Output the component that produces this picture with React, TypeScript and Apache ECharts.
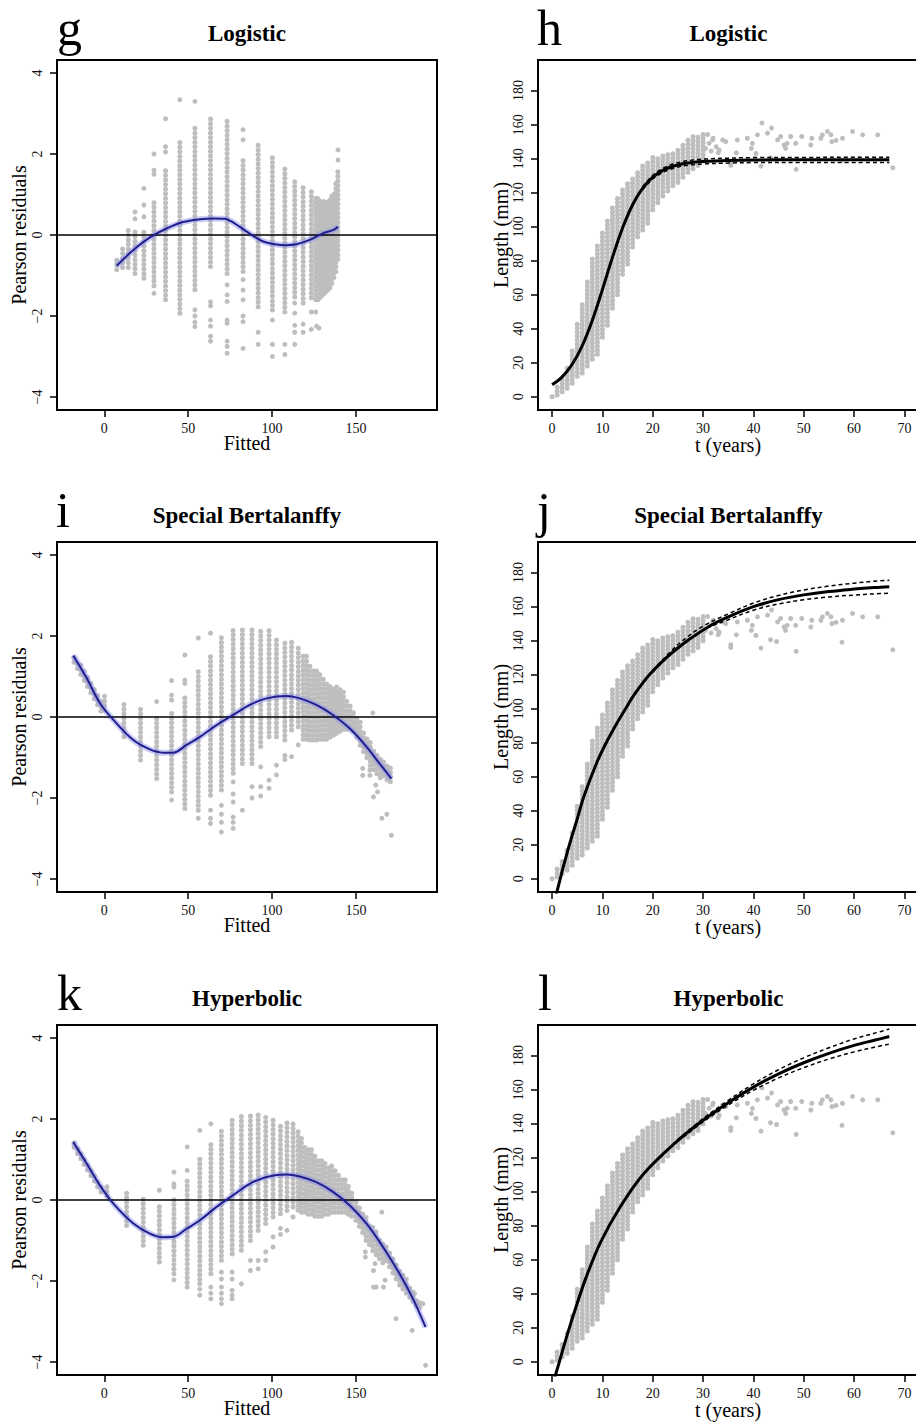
import React, { useEffect, useRef } from 'react';
import * as echarts from 'echarts';

const FONT = "'Liberation Serif', 'Times New Roman', Times, serif";
const GRAY = '#bebebe';
const BLUE = '#1f1f8f';
const HALO = 'rgba(140,140,235,0.45)';

// ---------- ticks & ranges ----------
const RESID_X_TICKS = [0, 50, 100, 150];
const RESID_Y_TICKS = [-4, -2, 0, 2, 4];
const GROWTH_X_TICKS = [0, 10, 20, 30, 40, 50, 60, 70];
const GROWTH_Y_TICKS = [0, 20, 40, 60, 80, 100, 120, 140, 160, 180];
const RESID_X_RANGE = [-28.2, 198.3];
const RESID_Y_RANGE = [-4.32, 4.32];
const GROWTH_X_RANGE = [-2.8, 72.9];
const GROWTH_Y_RANGE = [-7.8, 198];

const LETTERS = [['g', 'h'], ['i', 'j'], ['k', 'l']];
const TITLES = [['Logistic', 'Logistic'], ['Special Bertalanffy', 'Special Bertalanffy'], ['Hyperbolic', 'Hyperbolic']];

// ---------- panel g : Logistic residuals ----------
// columns of points: [fitted, lowest residual, highest residual]
const G_STRIPS = [
  [7.4, -0.85, -0.55], [10.9, -0.8, -0.3], [14.3, -0.8, 0.15], [18.3, -0.95, 0.15], [23.6, -1.07, 0.1],
  [29.6, -1.25, 0.8], [36.5, -1.6, 1.68], [45.0, -1.93, 2.38], [54.0, -1.35, 2.7], [63.3, -0.78, 2.95],
  [73.2, -0.95, 2.83], [82.7, -0.9, 1.93], [91.7, -1.77, 2.26], [100.2, -1.85, 1.95], [107.6, -1.9, 1.68],
  [113.5, -1.53, 1.36], [118.5, -1.68, 1.2], [123.4, -1.55, 1.15], [126.0, -1.6, 1.0], [127.2, -1.6, 0.95],
  [128.4, -1.55, 0.92], [129.6, -1.5, 0.88], [130.8, -1.45, 0.86], [132.0, -1.4, 0.86], [133.2, -1.36, 0.9],
  [134.4, -1.3, 0.95], [135.6, -1.2, 1.0], [136.8, -1.05, 1.1], [138.0, -0.9, 1.3], [139.2, -0.6, 1.6],
];
const G_POINTS = [
  [18.3, 0.4], [18.3, 0.57], [23.6, 0.45], [23.6, 0.74], [23.6, 1.15],
  [29.6, 1.5], [29.6, 1.6], [29.6, 2.0], [29.6, -1.44], [36.5, 2.05], [36.5, 2.18], [36.5, 2.87],
  [45.0, 3.34], [54.0, 3.3], [54.0, -1.85], [54.0, -2.0], [54.0, -2.15], [54.0, -2.26],
  [63.3, -1.65], [63.3, -1.75], [63.3, -2.1], [63.3, -2.25], [63.3, -2.5], [63.3, -2.62],
  [73.2, -1.23], [73.2, -1.48], [73.2, -1.64], [73.2, -2.1], [73.2, -2.18], [73.2, -2.62], [73.2, -2.75], [73.2, -2.92],
  [82.7, 2.35], [82.7, 2.6], [82.7, -1.1], [82.7, -1.36], [82.7, -1.6], [82.7, -2.0], [82.7, -2.14], [82.7, -2.8],
  [91.7, -2.4], [91.7, -2.7], [100.2, -2.1], [100.2, -2.7], [100.2, -3.0], [107.6, -2.7], [107.6, -2.95],
  [113.5, -1.68], [113.5, -1.93], [113.5, -2.23], [113.5, -2.4], [113.5, -2.7], [118.5, -2.2], [118.5, -2.4],
  [123.4, -1.9], [123.4, -2.33], [126.0, -1.9], [126.5, -2.25], [128.0, -2.3], [139.3, 1.85], [139.3, 2.1],
];
const G_FIT = [
  [7.4, -0.76], [17.3, -0.37], [27.2, -0.06], [37.1, 0.16], [47, 0.32], [57, 0.39], [65, 0.41], [72, 0.4],
  [76, 0.33], [80.8, 0.2], [88.7, -0.02], [94.7, -0.16], [100.6, -0.22], [108.5, -0.25], [114.4, -0.23],
  [122.4, -0.12], [130.3, 0.04], [136.3, 0.12], [139.3, 0.2],
];

// ---------- panel i : Special Bertalanffy residuals ----------
const I_STRIPS = [
  [-18, 1.35, 1.55], [-16, 1.2, 1.4], [-14, 1.05, 1.28], [-12, 0.9, 1.15], [-10, 0.75, 1.02], [-8, 0.6, 0.88],
  [-6, 0.45, 0.75], [-4, 0.3, 0.6], [-2, 0.15, 0.45], [0.1, 0.17, 0.58], [11.7, -0.49, 0.38], [21.6, -1.06, 0.26],
  [31.2, -1.52, 0.0], [40.1, -1.85, 0.09], [48.0, -2.26, 0.5], [56.0, -2.3, 1.16], [63.3, -1.93, 1.58],
  [69.8, -1.8, 1.99], [76.8, -1.39, 2.15], [82.3, -1.15, 2.25], [88.0, -1.15, 2.25], [93.2, -0.73, 2.19],
  [98.2, -0.49, 2.15], [102.6, -0.49, 1.99], [107.6, -0.57, 1.9], [111.6, -0.32, 1.86], [115.6, -0.24, 1.78],
  [118.5, -0.55, 1.6], [120.5, -0.55, 1.5], [122.5, -0.57, 1.35], [124.5, -0.57, 1.25], [126.5, -0.57, 1.15],
  [128.5, -0.55, 1.05], [130.5, -0.55, 1.0], [132.5, -0.55, 0.92], [134.5, -0.5, 0.85], [136.5, -0.45, 0.8],
  [138.5, -0.4, 0.75], [140.5, -0.35, 0.7], [142.5, -0.3, 0.62], [144.5, -0.3, 0.45], [146.5, -0.3, 0.33],
  [148.5, -0.35, 0.2], [150.5, -0.5, 0.05], [152.5, -0.7, -0.1], [154.5, -0.85, -0.3], [156.5, -1.0, -0.5],
  [158.5, -1.2, -0.6], [160.5, -1.3, -0.75], [162.5, -1.4, -0.9], [164.5, -1.5, -1.0], [166.5, -1.45, -1.05],
  [168.5, -1.55, -1.15], [170.5, -1.6, -1.2],
];
const I_POINTS = [
  [31.2, 0.38], [40.1, 0.9], [40.1, 0.54], [40.1, 0.42], [40.1, -2.05], [48.0, 1.53], [48.0, 0.91], [48.0, 0.83],
  [56.0, 1.95], [56.0, -2.5], [63.3, 2.07], [63.3, -2.3], [63.3, -2.5], [63.3, -2.63],
  [69.8, -2.18], [69.8, -2.4], [69.8, -2.6], [69.8, -2.84],
  [76.8, -1.6], [76.8, -1.9], [76.8, -2.1], [76.8, -2.47], [76.8, -2.6], [76.8, -2.75],
  [82.3, -2.3], [88.0, -1.72], [88.0, -2.0], [93.2, -1.23], [93.2, -1.72], [93.2, -1.95],
  [98.2, -1.56], [98.2, -1.76], [102.6, -1.19], [102.6, -1.43], [107.6, -0.95], [107.6, -1.05],
  [111.6, -0.98], [115.6, -0.69], [154.0, -1.27], [154.0, -1.44], [158.3, -1.31], [158.3, -1.44],
  [160.4, -1.97], [161.8, -1.68], [162.8, -1.85], [165.4, -2.5], [168.4, -2.4], [171.1, -2.92], [160.0, 0.1],
];
const I_FIT = [
  [-18.5, 1.52], [-10.5, 0.96], [-2.6, 0.34], [5.4, -0.07], [17.3, -0.57], [27.2, -0.8], [35, -0.88], [41.1, -0.88],
  [49, -0.69], [57, -0.49], [66.9, -0.2], [76.8, 0.05], [86.7, 0.3], [96.7, 0.46], [108.6, 0.52], [116.5, 0.46],
  [126.4, 0.3], [136.3, 0.05], [146.2, -0.28], [156.2, -0.73], [164.1, -1.15], [171.1, -1.52],
];

// ---------- panel k : Hyperbolic residuals ----------
const K_STRIPS = [
  [-18, 1.3, 1.48], [-16, 1.15, 1.32], [-14, 1.02, 1.2], [-12, 0.88, 1.05], [-10, 0.74, 0.92], [-8, 0.6, 0.78],
  [-6, 0.47, 0.63], [-4, 0.32, 0.5], [-2, 0.2, 0.4], [1.6, 0.1, 0.4], [13.3, -0.63, 0.24], [23.2, -1.12, 0.07],
  [32.8, -1.53, -0.09], [41.5, -1.82, 0.07], [49.4, -2.15, 0.49], [56.9, -2.07, 1.02], [63.5, -1.82, 1.39],
  [69.8, -1.49, 1.8], [76.2, -1.33, 2.0], [81.7, -1.24, 2.09], [87.1, -1.0, 2.13], [91.7, -0.75, 2.13],
  [96.2, -0.58, 2.13], [100.6, -0.42, 1.97], [105.0, -0.34, 1.93], [108.9, -0.26, 1.93], [112.5, -0.17, 1.89],
  [115.5, -0.25, 1.75], [117.5, -0.3, 1.55], [119.5, -0.3, 1.4], [121.5, -0.35, 1.3], [123.5, -0.35, 1.25],
  [125.5, -0.4, 1.15], [127.5, -0.4, 1.05], [129.5, -0.4, 1.0], [131.5, -0.35, 0.95], [133.5, -0.35, 0.9],
  [135.5, -0.3, 0.85], [137.5, -0.3, 0.8], [139.5, -0.3, 0.7], [141.5, -0.3, 0.6], [143.5, -0.3, 0.5],
  [145.5, -0.35, 0.4], [147.5, -0.4, 0.2], [150, -0.5, 0.0], [152, -0.65, -0.1], [154, -0.8, -0.3],
  [156, -1.0, -0.42], [158, -1.1, -0.55], [160, -1.25, -0.6], [162, -1.35, -0.75], [164, -1.45, -0.9],
  [166, -1.55, -1.0], [168, -1.5, -1.1], [170, -1.65, -1.25], [172, -1.8, -1.4], [174, -1.95, -1.55],
  [176, -2.1, -1.7], [178, -2.2, -1.85], [180, -2.3, -1.95], [182, -2.4, -2.1], [184, -2.5, -2.25],
  [186, -2.6, -2.4], [188, -2.65, -2.5],
];
const K_POINTS = [
  [32.8, 0.24], [41.5, 0.69], [41.5, 0.4], [41.5, 0.32], [41.5, -1.97], [49.4, 1.31], [49.4, 0.73],
  [56.9, 1.72], [56.9, -2.2], [56.9, -2.35], [63.5, 1.88], [63.5, -2.15], [63.5, -2.3], [63.5, -2.44],
  [69.8, -1.78], [69.8, -1.95], [69.8, -2.15], [69.8, -2.3], [69.8, -2.44], [69.8, -2.56],
  [76.2, -1.78], [76.2, -1.95], [76.2, -2.23], [76.2, -2.35], [76.2, -2.44], [81.7, -2.07],
  [87.1, -1.49], [87.1, -1.74], [91.7, -1.49], [91.7, -1.7], [96.2, -1.28], [96.2, -1.49],
  [100.6, -0.91], [100.6, -1.16], [105.0, -0.7], [105.0, -0.85], [108.9, -0.75], [112.5, -0.42],
  [155.6, -1.28], [155.6, -1.41], [161.4, -1.57], [160.4, -1.74], [160.4, -2.15], [162.0, -2.15],
  [167.4, -1.98], [166.4, -2.15], [173.9, -2.93], [183.5, -3.22], [191.5, -4.08], [184.9, -2.31],
  [189.9, -2.56], [165.4, -0.3],
];
const K_FIT = [
  [-18.5, 1.43], [-10.5, 0.9], [-2.6, 0.36], [5.4, -0.09], [17.3, -0.58], [27.2, -0.83], [35, -0.92], [41.1, -0.91],
  [49, -0.71], [57, -0.5], [66.9, -0.17], [76.8, 0.12], [86.7, 0.4], [96.7, 0.57], [108.6, 0.63], [116.5, 0.58],
  [126.4, 0.44], [136.3, 0.2], [146.2, -0.13], [156.2, -0.58], [166.1, -1.16], [176, -1.82], [184, -2.44],
  [191.5, -3.14],
];

// ---------- growth data (shared by h, j, l) ----------
// columns of observations: [t, lowest length, highest length]
const GROWTH_STRIPS = [
  [0, 0, 2], [1, 1, 6], [2, 3, 12], [3, 5, 18], [4, 8, 27], [5, 12, 45], [6, 14, 55], [7, 18, 68], [8, 22, 82],
  [9, 25, 90], [10, 35, 97], [11, 42, 104], [12, 52, 111], [13, 60, 117], [14, 72, 122], [15, 78, 126],
  [16, 88, 129], [17, 94, 133], [18, 98, 136], [19, 102, 139], [20, 110, 141], [21, 114, 142], [22, 118, 143],
  [23, 121, 144], [24, 124, 145], [25, 126, 147], [26, 129, 149], [27, 132, 151], [28, 134, 153],
  [29, 136, 154], [30, 140, 155],
];
const GROWTH_POINTS = [
  [30.5, 146], [30.9, 154.2], [31.2, 149], [31.6, 144.5], [31.9, 151], [32.0, 152], [32.6, 147], [33.0, 143.5],
  [33.2, 145], [33.9, 151], [34.5, 150], [35.5, 137.6], [35.5, 136.0], [36.6, 143.4], [36.8, 151], [38.8, 152],
  [39.6, 146], [39.8, 149], [40.5, 143], [40.8, 154], [41.5, 135.6], [41.7, 161], [42.8, 155], [43.4, 140.5],
  [43.6, 158], [44.6, 139.5], [44.8, 151], [45.4, 153], [46.1, 148], [46.4, 146], [46.7, 149], [47.4, 153],
  [48.4, 149], [48.5, 133.7], [49.6, 153], [51.4, 148], [51.6, 152], [53.4, 152], [53.7, 154], [54.7, 156],
  [55.4, 154], [55.6, 150], [56.4, 150.7], [57.6, 139], [57.7, 152], [59.7, 156], [61.7, 154], [64.7, 154],
  [67.7, 134.6],
];

// panel h: logistic fit and confidence limits
const H_FIT = [
  [0, 7.0], [2, 11.7], [4, 19.1], [6, 30.1], [8, 45.0], [10, 63.0], [12, 82.0], [14, 99.2], [16, 112.9],
  [18, 122.6], [20, 129.1], [22, 133.1], [24, 135.5], [26, 137.0], [28, 137.8], [30, 138.3], [35, 138.9],
  [40, 139.2], [50, 139.3], [60, 139.3], [67, 139.3],
];
const H_UPPER = [
  [18, 123.5], [20, 130.2], [22, 134.3], [24, 136.8], [26, 138.3], [28, 139.2], [30, 139.7], [35, 140.3],
  [40, 140.6], [50, 140.7], [60, 140.8], [67, 140.8],
];
const H_LOWER = [
  [18, 121.7], [20, 128.0], [22, 131.9], [24, 134.2], [26, 135.7], [28, 136.4], [30, 136.9], [35, 137.4],
  [40, 137.7], [50, 137.8], [60, 137.8], [67, 137.8],
];

// panel j: special Bertalanffy fit and confidence limits
const J_FIT = [
  [0.5, -12.5], [1.0, -7.2], [2, 4.5], [3, 15.4], [4, 25.6], [5, 35.2], [6.33, 48.5], [8.87, 68.2], [10.5, 78.5],
  [12.47, 89.4], [14.5, 99.5], [16.53, 109.1], [19.5, 120.5], [22.67, 129.9], [26, 138], [28, 142.3],
  [31.67, 149.2], [35, 154], [40, 160], [45, 164.1], [50, 166.9], [55, 168.9], [60, 170.3], [64, 171.2],
  [67, 171.7],
];
const J_UPPER = [
  [20, 122.4], [25, 137.6], [30, 148.5], [35, 155.7], [40, 162.1], [45, 166.6], [50, 169.8], [55, 172.1],
  [60, 173.8], [64, 174.9], [67, 175.5],
];
const J_LOWER = [
  [20, 121.4], [25, 136.0], [30, 146.1], [35, 152.3], [40, 157.9], [45, 161.6], [50, 164.0], [55, 165.7],
  [60, 166.8], [64, 167.5], [67, 167.9],
];

// panel l: hyperbolic fit and confidence limits
const L_FIT = [
  [0.3, -11.5], [0.67, -7.8], [1.45, 0], [2.87, 14.5], [4.67, 31.5], [6.87, 50.5], [9.67, 70.5], [13.53, 91],
  [18.2, 110.5], [25, 130.1], [30, 142], [35, 152.3], [40, 161.5], [45, 169.3], [50, 175.8], [55, 181.3],
  [60, 186.0], [64, 189.0], [67, 191.2],
];
const L_UPPER = [
  [25, 130.7], [30, 143.0], [35, 153.7], [40, 163.4], [45, 171.7], [50, 178.7], [55, 184.6], [60, 189.8],
  [64, 193.1], [67, 195.6],
];
const L_LOWER = [
  [25, 129.5], [30, 141.0], [35, 150.9], [40, 159.6], [45, 166.9], [50, 172.9], [55, 178.0], [60, 182.2],
  [64, 184.9], [67, 186.8],
];

// ---------- helpers ----------
const fmt = (v: number) => String(v).replace('-', '\u2212');

const makeStripItem = (gap: number) => (_params: any, api: any) => {
  const a = api.coord([api.value(0), api.value(1)]);
  const b = api.coord([api.value(0), api.value(2)]);
  return {
    type: 'line',
    shape: { x1: a[0], y1: a[1], x2: b[0], y2: b[1] },
    style: { stroke: GRAY, lineWidth: 5, lineCap: 'round', lineDash: [0.01, gap] },
  };
};

function xAxisFor(gi: number, range: number[], ticks: number[]) {
  return {
    type: 'value', gridIndex: gi, min: range[0], max: range[1], position: 'bottom',
    axisLine: { show: false, onZero: false },
    splitLine: { show: false },
    axisTick: { show: true, inside: false, length: 7, lineStyle: { color: '#000', width: 1.5 }, customValues: ticks },
    axisLabel: { show: true, customValues: ticks, margin: 11, fontSize: 14, fontFamily: FONT, color: '#111', formatter: fmt },
  };
}
function yAxisFor(gi: number, range: number[], ticks: number[]) {
  return {
    type: 'value', gridIndex: gi, min: range[0], max: range[1], position: 'left',
    axisLine: { show: false, onZero: false },
    splitLine: { show: false },
    axisTick: { show: true, inside: false, length: 7, lineStyle: { color: '#000', width: 1.5 }, customValues: ticks },
    axisLabel: { show: true, customValues: ticks, rotate: 90, margin: 13, fontSize: 14, fontFamily: FONT, color: '#111', formatter: fmt },
  };
}

const SMOOTH = 0.35;

function residualSeries(gi: number, strips: number[][], points: number[][], fit: number[][]) {
  const ax = { xAxisIndex: gi, yAxisIndex: gi };
  return [
    { type: 'custom', ...ax, data: strips, renderItem: makeStripItem(4.6), clip: true, silent: true, z: 2 },
    { type: 'scatter', ...ax, data: points, symbol: 'circle', symbolSize: 5, itemStyle: { color: GRAY, opacity: 1 }, silent: true, z: 2 },
    {
      type: 'line', ...ax, data: fit, showSymbol: false, symbol: 'none', smooth: SMOOTH,
      lineStyle: { color: HALO, width: 6 }, silent: true, z: 3,
      markLine: {
        silent: true, symbol: ['none', 'none'], label: { show: false },
        lineStyle: { color: '#000', width: 1.5, type: 'solid' }, data: [{ yAxis: 0 }],
      },
    },
    {
      type: 'line', ...ax, data: fit, showSymbol: false, symbol: 'none', smooth: SMOOTH,
      lineStyle: { color: BLUE, width: 2 }, silent: true, z: 8,
    },
  ];
}

function growthSeries(gi: number, fit: number[][], upper: number[][], lower: number[][]) {
  const ax = { xAxisIndex: gi, yAxisIndex: gi };
  const dashed = (d: number[][]) => ({
    type: 'line', ...ax, data: d, showSymbol: false, symbol: 'none', smooth: SMOOTH,
    lineStyle: { color: '#000', width: 1.5, type: [4, 3] }, silent: true, clip: true, z: 6,
  });
  return [
    { type: 'custom', ...ax, data: GROWTH_STRIPS, renderItem: makeStripItem(4.0), clip: true, silent: true, z: 2 },
    { type: 'scatter', ...ax, data: GROWTH_POINTS, symbol: 'circle', symbolSize: 5, itemStyle: { color: GRAY, opacity: 1 }, silent: true, z: 2 },
    dashed(upper),
    dashed(lower),
    {
      type: 'line', ...ax, data: fit, showSymbol: false, symbol: 'none', smooth: SMOOTH,
      lineStyle: { color: '#000', width: 3 }, silent: true, clip: true, z: 7,
    },
  ];
}

function buildOption() {
  const ROW_TOPS = [60, 542, 1025];
  const grids: any[] = [];
  const xAxes: any[] = [];
  const yAxes: any[] = [];
  ROW_TOPS.forEach((top) => {
    grids.push({ left: 57, top, width: 380, height: 350 });
    grids.push({ left: 538, top, width: 381, height: 350 });
  });
  for (let i = 0; i < 6; i++) {
    const resid = i % 2 === 0;
    xAxes.push(xAxisFor(i, resid ? RESID_X_RANGE : GROWTH_X_RANGE, resid ? RESID_X_TICKS : GROWTH_X_TICKS));
    yAxes.push(yAxisFor(i, resid ? RESID_Y_RANGE : GROWTH_Y_RANGE, resid ? RESID_Y_TICKS : GROWTH_Y_TICKS));
  }
  const series = [
    ...residualSeries(0, G_STRIPS, G_POINTS, G_FIT),
    ...growthSeries(1, H_FIT, H_UPPER, H_LOWER),
    ...residualSeries(2, I_STRIPS, I_POINTS, I_FIT),
    ...growthSeries(3, J_FIT, J_UPPER, J_LOWER),
    ...residualSeries(4, K_STRIPS, K_POINTS, K_FIT),
    ...growthSeries(5, L_FIT, L_UPPER, L_LOWER),
  ];

  const graphic: any[] = [];
  const ROW_OFF = [0, 482, 965];
  ROW_OFF.forEach((r, row) => {
    const txt = (x: number, y: number, text: string, size: number, extra: any = {}, rot = 0) => ({
      type: 'text', x, y, rotation: rot, silent: true,
      style: {
        text, fontSize: size, fontFamily: FONT, fill: '#000', align: 'center', verticalAlign: 'middle', ...extra,
      },
    });
    graphic.push(txt(row === 1 ? 56 : 57, 28 + r, LETTERS[row][0], 50, { align: 'left' }));
    graphic.push(txt(row === 2 ? 538 : 537, 28 + r, LETTERS[row][1], 50, { align: 'left' }));
    graphic.push(txt(247, 33 + r, TITLES[row][0], 23, { fontWeight: 'bold' }));
    graphic.push(txt(728.5, 33 + r, TITLES[row][1], 23, { fontWeight: 'bold' }));
    graphic.push(txt(18.5, 235 + r, 'Pearson residuals', 20, {}, Math.PI / 2));
    graphic.push(txt(501, 235 + r, 'Length (mm)', 20, {}, Math.PI / 2));
    graphic.push(txt(247, 443 + r, 'Fitted', 20));
    graphic.push(txt(728, 445 + r, 't (years)', 20));
  });

  return {
    animation: false,
    backgroundColor: '#fff',
    grid: grids.map((g) => ({
      ...g, show: true, borderColor: '#000', borderWidth: 2, backgroundColor: 'transparent',
      containLabel: false, outerBoundsMode: 'none',
    })),
    xAxis: xAxes,
    yAxis: yAxes,
    series,
    graphic,
  };
}

export default function App() {
  const ref = useRef<HTMLDivElement>(null);
  useEffect(() => {
    const chart = echarts.init(ref.current as HTMLDivElement, null, { renderer: 'svg' });
    chart.setOption(buildOption() as any);
    return () => chart.dispose();
  }, []);
  return <div ref={ref} style={{ position: 'absolute', left: 0, top: 0, width: 916, height: 1423 }} />;
}
